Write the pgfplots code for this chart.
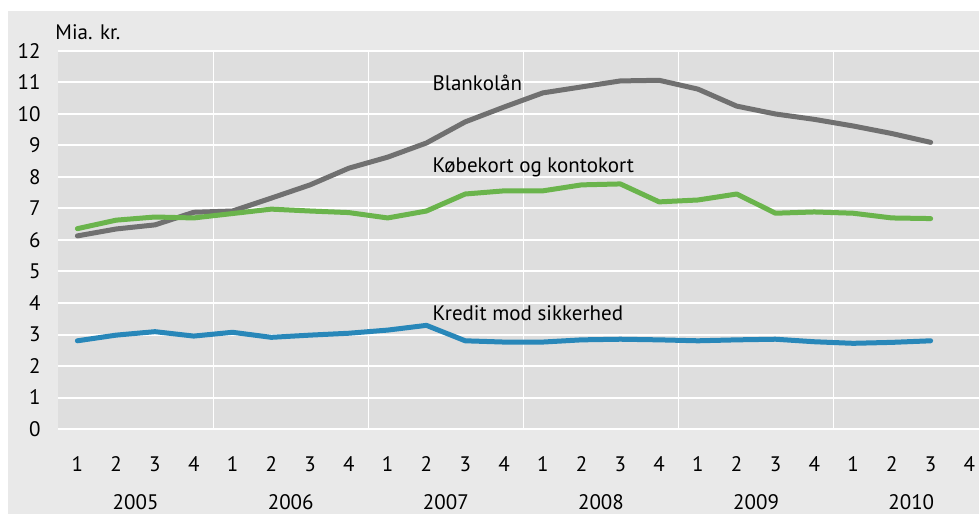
\documentclass[border=0pt]{standalone}
\usepackage{fontspec}
\setmainfont{PT Sans}
\usepackage{pgfplots}
\pgfplotsset{compat=1.18}
\definecolor{outerbg}{HTML}{E9E9E9}
\definecolor{plotbg}{HTML}{DEDEDE}
\definecolor{cgrey}{HTML}{707070}
\definecolor{cgreen}{HTML}{6AB44C}
\definecolor{cblue}{HTML}{2887B9}
\begin{document}
\fontsize{10.5}{12.6}\selectfont
\begin{tikzpicture}[x=1pt,y=1pt]
\fill[white] (0,0) rectangle (489.5,257);
\fill[outerbg] (4,0) rectangle (489.5,251.5);
\begin{axis}[
  at={(29pt,42.5pt)}, anchor=south west,
  scale only axis, width=465.4pt, height=189pt,
  xmin=0.5, xmax=24.5, ymin=0, ymax=12,
  axis background/.style={fill=plotbg},
  axis line style={draw=none},
  major tick length=0pt, minor tick length=0pt,
  /pgf/number format/assume math mode=true,
  ytick={0,1,...,12},
  ymajorgrids, major grid style={white, line width=1pt},
  xtick={1,...,24},
  xticklabels={1,2,3,4,1,2,3,4,1,2,3,4,1,2,3,4,1,2,3,4,1,2,3,4},
  minor xtick={4.5,8.5,12.5,16.5,20.5},
  xminorgrids, minor grid style={white, line width=0.6pt},
  yticklabel style={anchor=east, inner sep=0pt, xshift=-8.5pt, font=\fontsize{10.5}{12}\selectfont},
  xticklabel style={anchor=base, inner sep=0pt, yshift=-21pt, font=\fontsize{10.5}{12}\selectfont},
  clip=true,
  every axis plot/.append style={line width=2.5pt, line join=round, line cap=round, mark=none},
]
\addplot[cgrey] coordinates {
(1,6.13)(2,6.35)(3,6.48)(4,6.88)(5,6.92)(6,7.33)(7,7.75)(8,8.28)
(9,8.63)(10,9.08)(11,9.75)(12,10.22)(13,10.67)(14,10.86)(15,11.05)(16,11.07)
(17,10.79)(18,10.25)(19,10.0)(20,9.83)(21,9.62)(22,9.38)(23,9.1)};
\addplot[cgreen] coordinates {
(1,6.36)(2,6.63)(3,6.73)(4,6.7)(5,6.84)(6,6.98)(7,6.92)(8,6.87)
(9,6.7)(10,6.92)(11,7.46)(12,7.56)(13,7.56)(14,7.75)(15,7.78)(16,7.21)
(17,7.27)(18,7.46)(19,6.85)(20,6.89)(21,6.85)(22,6.7)(23,6.68)};
\addplot[cblue] coordinates {
(1,2.8)(2,2.98)(3,3.09)(4,2.95)(5,3.07)(6,2.91)(7,2.98)(8,3.04)
(9,3.14)(10,3.29)(11,2.8)(12,2.76)(13,2.76)(14,2.83)(15,2.85)(16,2.83)
(17,2.8)(18,2.83)(19,2.85)(20,2.77)(21,2.72)(22,2.75)(23,2.8)};
\node[anchor=base west, inner sep=0pt] at (axis cs:10.15,10.76) {Blankolån};
\node[anchor=base west, inner sep=0pt] at (axis cs:10.15,8.14) {Købekort og kontokort};
\node[anchor=base west, inner sep=0pt] at (axis cs:10.15,3.46) {Kredit mod sikkerhed};
\end{axis}
\node[anchor=base west, inner sep=0pt] at (27.5,237) {Mia. kr.};
\foreach \yr [count=\i from 0] in {2005,2006,2007,2008,2009,2010} {
  \pgfmathsetmacro{\xx}{29+(2.5+4*\i-0.5)*19.392}
  \node[anchor=base, inner sep=0pt] at (\xx,2.5) {\yr};
}
\pgfresetboundingbox
\useasboundingbox (0,0) rectangle (489.5,257);
\end{tikzpicture}
\end{document}
